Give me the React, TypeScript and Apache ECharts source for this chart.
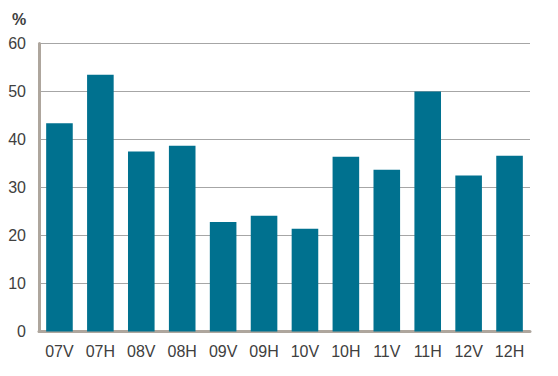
import React, { useEffect, useRef } from "react";
import * as echarts from "echarts";

const categories = ["07V", "07H", "08V", "08H", "09V", "09H", "10V", "10H", "11V", "11H", "12V", "12H"];
const values = [43.4, 53.5, 37.5, 38.7, 22.8, 24.1, 21.4, 36.4, 33.7, 50.0, 32.5, 36.6];
const yTicks = { min: 0, max: 60, interval: 10 };
const unitLabel = "%";

export default function App() {
  const ref = useRef<HTMLDivElement>(null);
  useEffect(() => {
    if (!ref.current) return;
    const chart = echarts.init(ref.current, undefined, { renderer: "svg" });
    chart.setOption({
      animation: false,
      textStyle: { fontFamily: "Liberation Sans, Arial, sans-serif" },
      grid: { left: 39, right: 28, top: 43.5, bottom: 44.5, containLabel: false },
      graphic: [
        {
          type: "text",
          left: 12,
          top: 11,
          style: { text: unitLabel, fontSize: 16, fontWeight: "bold", fill: "#404040", fontFamily: "Liberation Sans, Arial, sans-serif" },
        },
      ],
      xAxis: {
        type: "category",
        data: categories,
        axisLine: { lineStyle: { color: "#aea69d", width: 3 } },
        axisTick: { show: false },
        axisLabel: { color: "#404040", fontSize: 16, margin: 12 },
      },
      yAxis: {
        type: "value",
        min: yTicks.min,
        max: yTicks.max,
        interval: yTicks.interval,
        axisLine: { show: true, lineStyle: { color: "#aea69d", width: 3 } },
        axisTick: { show: false },
        axisLabel: { color: "#404040", fontSize: 16, margin: 13 },
        splitLine: { lineStyle: { color: "#a6a6a6", width: 1 } },
      },
      series: [
        {
          type: "bar",
          data: values,
          barWidth: "65%",
          itemStyle: { color: "#00718f" },
        },
      ],
    });
    return () => chart.dispose();
  }, []);
  return <div ref={ref} style={{ position: "absolute", left: 0, top: 0, width: 558, height: 376 }} />;
}
